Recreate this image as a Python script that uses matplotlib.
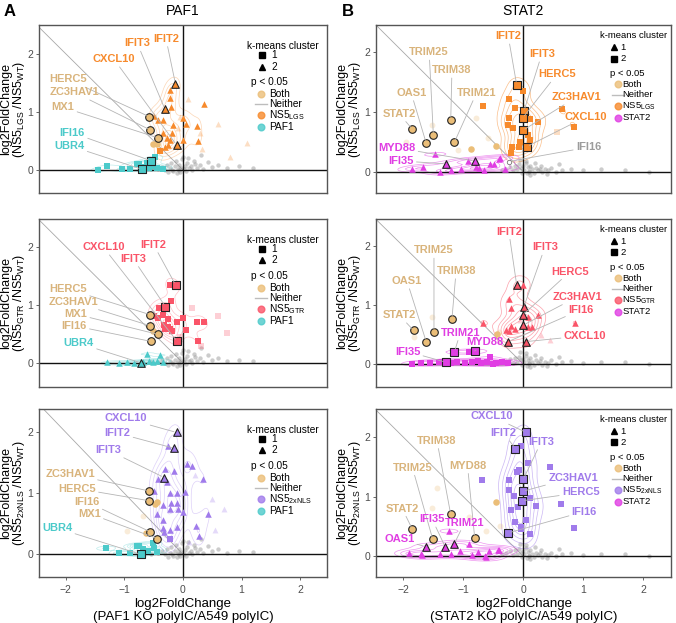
import numpy as np
import matplotlib
matplotlib.use("Agg")
import matplotlib.pyplot as plt
from matplotlib.lines import Line2D

plt.rcParams["font.family"] = ["Liberation Sans", "DejaVu Sans"]
plt.rcParams["mathtext.fontset"] = "custom"
plt.rcParams["mathtext.rm"] = "Liberation Sans"
plt.rcParams["mathtext.default"] = "regular"

TAN = "#EBBE78"
TAN_TXT = "#D9B47C"
ORANGE = "#F78A2C"
RED = "#FA5468"
PURPLE = "#A07BEB"
TEAL = "#4CCACA"
MAGENTA = "#E03DE3"
GREY = "#8f8f8f"

# ---------------- grey "Neither" genes (per column) ----------------
grey_A_x = [-0.42, -0.36, -0.31, -0.27, -0.23, -0.2, -0.17, -0.14, -0.12, -0.09, -0.07, -0.05, -0.03, -0.01,
            0.01, 0.03, 0.05, 0.07, 0.1, 0.13, 0.16, 0.2, 0.24, 0.29, 0.35, 0.42, 0.5, 0.6, 0.75, 0.95, 1.2,
            -0.55, -0.25, -0.1, 0.0, 0.08, 0.18, -0.18, 0.3, -0.06]
grey_A_y = [0.02, 0.05, 0.0, 0.08, 0.03, 0.12, -0.02, 0.06, 0.15, 0.02, 0.09, -0.03, 0.04, 0.18, 0.01, 0.07,
            -0.02, 0.12, 0.03, 0.06, 0.0, 0.1, 0.04, 0.08, 0.02, 0.13, 0.05, 0.09, 0.03, 0.06, 0.04, 0.01,
            -0.04, -0.05, 0.22, 0.2, 0.15, 0.0, 0.25, 0.0]
grey_B_x = [-0.35, -0.28, -0.22, -0.17, -0.13, -0.1, -0.07, -0.04, -0.02, 0.0, 0.02, 0.04, 0.06, 0.08, 0.1,
            0.12, 0.15, 0.18, 0.21, 0.24, 0.28, 0.32, 0.36, 0.41, 0.47, 0.55, 0.65, 0.8, 1.0, 1.3, 1.7, 2.1,
            0.05, 0.12, 0.2, 0.3, -0.05, 0.09, 0.4, 0.6]
grey_B_y = [0.03, 0.05, 0.08, 0.02, 0.1, 0.04, 0.12, 0.06, -0.02, 0.09, 0.03, 0.14, -0.03, 0.07, 0.01, 0.1,
            0.04, -0.02, 0.06, 0.02, 0.05, -0.01, 0.04, 0.02, 0.06, 0.0, 0.03, 0.05, 0.02, 0.04, 0.03, 0.0,
            0.18, -0.05, 0.15, 0.1, 0.2, 0.0, -0.04, 0.12]

# ---------------- A1: PAF1 KO vs NS5 LGS ----------------
A1_ns5_x = [-0.22, -0.22, -0.21, -0.50, -0.42, -0.35, 0.36, 0.00, 0.05, 0.24, -0.34, -0.19, -0.28, -0.22,
            -0.25, 0.00, 0.25, -0.31, -0.17, -0.40]
A1_ns5_y = [1.37, 1.24, 1.08, 0.93, 0.86, 0.86, 1.13, 0.89, 0.80, 0.76, 0.63, 0.63, 0.55, 0.51, 0.43, 0.51,
            0.50, 0.40, 0.78, 0.32]
A1_ns5_k = [2, 2, 2, 2, 2, 2, 2, 2, 2, 2, 2, 2, 2, 2, 2, 2, 2, 2, 2, 1]
A1_ko_x = [-0.48, -0.62, -0.76, -1.30, -0.79, -0.66, -0.58, -0.90, -1.05, -0.52, -0.44, -1.45, -0.35]
A1_ko_y = [0.22, 0.12, 0.10, 0.06, 0.11, 0.05, 0.03, 0.02, 0.01, 0.07, 0.04, 0.00, 0.02]
A1_ko_k = [1, 1, 1, 1, 1, 1, 1, 1, 1, 1, 1, 1, 1]
A1_both_x = [-0.51, -0.45]
A1_both_y = [0.45, 0.45]
A1_faint_x = [0.09, 0.60, -0.08, 0.32, 1.09, 0.80, 0.29, -0.05]
A1_faint_y = [1.22, 0.80, 0.72, 0.36, 0.46, 0.23, 0.64, 0.92]
A1_faint_g = ["ns5"] * 8
A1_genes = ["IFIT2", "IFIT3", "CXCL10", "HERC5", "ZC3HAV1", "MX1", "IFI16", "UBR4"]
A1_gene_x = [-0.13, -0.31, -0.11, -0.58, -0.56, -0.42, -0.55, -0.70]
A1_gene_y = [1.49, 1.05, 0.43, 0.92, 0.69, 0.55, 0.16, 0.01]
A1_gene_g = ["ns5", "ns5", "ns5", "both", "both", "both", "ko", "ko"]
A1_gene_k = [2, 2, 2, 0, 0, 0, 1, 1]
A1_text_pos = [(-0.29, 2.26), (-0.78, 2.18), (-1.18, 1.91), (-1.96, 1.56), (-1.86, 1.34), (-2.05, 1.08),
               (-1.89, 0.64), (-1.94, 0.42)]

# ---------------- A2: PAF1 KO vs NS5 GTR ----------------
A2_ns5_x = [-0.22, -0.20, -0.41, -0.49, -0.43, -0.34, -0.25, 0.00, -0.10, 0.24, 0.36, -0.32, -0.31, -0.22,
            -0.25, -0.19, 0.05, 0.26]
A2_ns5_y = [1.34, 1.07, 0.94, 0.81, 0.77, 0.83, 0.75, 0.77, 0.70, 0.70, 0.70, 0.66, 0.58, 0.58, 0.62, 0.55,
            0.57, 0.38]
A2_ns5_k = [1] * 18
A2_ko_x = [-0.62, -0.40, -1.29, -0.51, -0.84, -0.45, -0.58, -0.95, -1.10, -0.68, -0.35]
A2_ko_y = [0.16, 0.13, 0.01, 0.02, 0.00, 0.04, 0.03, 0.01, 0.00, 0.02, 0.01]
A2_ko_k = [2] * 11
A2_both_x = [-0.51]
A2_both_y = [0.55]
A2_faint_x = [0.60, 0.15, 0.75, -0.05, 0.30]
A2_faint_y = [0.80, 0.95, 0.51, 0.45, 0.30]
A2_faint_g = ["ns5"] * 5
A2_genes = ["IFIT2", "IFIT3", "CXCL10", "HERC5", "ZC3HAV1", "MX1", "IFI16", "UBR4"]
A2_gene_x = [-0.125, -0.30, -0.10, -0.56, -0.56, -0.42, -0.54, -0.71]
A2_gene_y = [1.34, 0.97, 0.37, 0.83, 0.64, 0.49, 0.37, 0.00]
A2_gene_g = ["ns5", "ns5", "ns5", "both", "both", "both", "both", "ko"]
A2_gene_k = [1, 1, 1, 0, 0, 0, 0, 2]
A2_text_pos = [(-0.50, 2.03), (-0.85, 1.79), (-1.36, 1.99), (-1.96, 1.27), (-1.87, 1.05), (-1.83, 0.84),
               (-1.86, 0.64), (-1.78, 0.34)]

# ---------------- A3: PAF1 KO vs NS5 2xNLS ----------------
A3_ns5_x = [-0.25, 0.06, 0.15, -0.30, -0.15, -0.43, -0.28, 0.35, -0.49, -0.23, -0.11, 0.04, -0.35, -0.21,
            -0.10, -0.23, -0.08, 0.00, -0.45, 0.42, -0.35, -0.34, -0.22, -0.10, 0.23, 0.28, -0.32, -0.22]
A3_ns5_y = [1.78, 1.49, 1.45, 1.40, 1.37, 1.24, 1.18, 1.23, 1.04, 1.00, 1.00, 1.03, 0.81, 0.85, 0.84, 0.74,
            0.74, 0.70, 0.66, 0.67, 0.56, 0.44, 0.40, 0.45, 0.46, 0.30, 0.36, 0.26]
A3_ns5_k = [2] * 27 + [1]
A3_ko_x = [-0.76, -0.52, -1.32, -0.79, -0.60, -0.90, -1.10, -0.45, -0.68, -0.50]
A3_ko_y = [0.14, 0.18, 0.10, 0.14, 0.06, 0.03, 0.02, 0.04, 0.08, 0.10]
A3_ko_k = [1] * 10
A3_both_x = [-0.48, -0.44, -0.63]
A3_both_y = [0.82, 0.86, 0.35]
A3_faint_x = [-0.95, -0.68, 0.20, 0.50, 0.70, 0.10, 0.55]
A3_faint_y = [0.39, 0.63, 1.30, 0.90, 0.75, 0.20, 0.40]
A3_faint_g = ["both", "both", "ns5", "ns5", "ns5", "ns5", "ns5"]
A3_genes = ["CXCL10", "IFIT2", "IFIT3", "ZC3HAV1", "HERC5", "IFI16", "MX1", "UBR4"]
A3_gene_x = [-0.11, -0.15, -0.32, -0.58, -0.58, -0.56, -0.44, -0.72]
A3_gene_y = [2.00, 1.74, 1.26, 1.04, 0.88, 0.37, 0.26, 0.00]
A3_gene_g = ["ns5", "ns5", "ns5", "both", "both", "both", "both", "ko"]
A3_gene_k = [2, 2, 2, 0, 0, 0, 0, 1]
A3_text_pos = [(-0.97, 2.23), (-1.12, 1.99), (-1.28, 1.71), (-1.93, 1.32), (-1.81, 1.08), (-1.64, 0.86),
               (-1.60, 0.67), (-2.15, 0.43)]

# ---------------- B1: STAT2 KO vs NS5 LGS ----------------
B1_ns5_x = [-0.01, -0.67, -0.23, -0.14, -0.23, 0.11, -0.25, -0.17, 0.08, 0.11, -0.05, -0.07, -0.18, -0.20,
            0.64, 0.85, 0.25]
B1_ns5_y = [1.35, 1.10, 1.21, 1.07, 0.90, 0.89, 0.79, 0.74, 0.61, 0.53, 0.50, 0.42, 0.42, 0.32, 1.05, 0.75,
            0.84]
B1_ns5_k = [2] * 17
B1_ko_x = [-1.47, -1.68, -1.39, -0.92, -0.55, -0.48, -0.73, -0.39, -1.04, -0.78, -0.40, -1.20, -0.65, -0.30,
           -1.85]
B1_ko_y = [0.29, 0.07, -0.01, 0.18, 0.13, 0.12, 0.06, 0.23, 0.04, 0.08, 0.22, 0.02, 0.03, 0.05, 0.04]
B1_ko_k = [1] * 15
B1_both_x = [-0.88, -0.45]
B1_both_y = [0.38, 0.43]
B1_faint_x = [-1.52, -0.78, -1.09, -0.59, -1.95, 0.56]
B1_faint_y = [0.79, 0.90, 0.36, 0.56, 0.50, 0.67]
B1_faint_g = ["both", "both", "both", "both", "both", "ns5"]
B1_genes = ["IFIT2", "IFIT3", "HERC5", "ZC3HAV1", "CXCL10", "IFI16", "TRIM25", "TRIM38", "TRIM21", "OAS1",
            "STAT2", "IFI35", "MYD88"]
B1_gene_x = [-0.11, 0.01, -0.01, -0.01, 0.06, -0.24, -1.50, -1.21, -1.15, -1.62, -1.85, -1.29, -0.81]
B1_gene_y = [1.46, 1.01, 0.90, 0.69, 0.42, 0.17, 0.61, 0.87, 0.49, 0.48, 0.71, 0.13, 0.18]
B1_gene_g = ["ns5", "ns5", "ns5", "ns5", "ns5", "none", "both", "both", "both", "both", "both", "ko", "ko"]
B1_gene_k = [2, 2, 2, 2, 2, 0, 0, 0, 0, 0, 0, 1, 1]
B1_text_pos = [(-0.25, 2.27), (0.31, 1.97), (0.56, 1.63), (0.89, 1.25), (1.05, 0.92), (1.09, 0.41),
               (-1.57, 2.00), (-1.19, 1.70), (-0.78, 1.32), (-1.87, 1.32), (-2.07, 0.97), (-2.04, 0.18),
               (-2.11, 0.40)]

# ---------------- B2: STAT2 KO vs NS5 GTR ----------------
B2_ns5_x = [-0.01, -0.23, -0.21, -0.67, -0.28, -0.20, -0.14, 0.14, 0.25, 0.86, 0.08, -0.23, 0.08]
B2_ns5_y = [1.35, 1.10, 0.95, 0.70, 0.58, 0.65, 0.60, 0.62, 0.83, 0.70, 0.62, 0.56, 0.79]
B2_ns5_k = [1] * 13
B2_ko_x = [-0.55, -0.90, -1.85, -1.70, -1.55, -1.40, -1.10, -0.98, -0.85, -0.70, -0.60, -0.45, -0.35, -0.25,
           -1.20, -0.75, -0.50]
B2_ko_y = [0.11, 0.21, 0.00, 0.02, 0.01, 0.03, 0.04, 0.02, 0.03, 0.01, 0.04, 0.02, 0.03, 0.01, 0.02, 0.05,
           0.00]
B2_ko_k = [2] * 17
B2_both_x = [-0.44]
B2_both_y = [0.51]
B2_faint_x = [-1.52, -1.83, -0.40, 0.30, 0.45, -0.05]
B2_faint_y = [0.79, 0.45, 0.55, 0.50, 0.40, 0.75]
B2_faint_g = ["both", "both", "both", "ns5", "ns5", "ns5"]
B2_genes = ["IFIT2", "IFIT3", "HERC5", "ZC3HAV1", "IFI16", "CXCL10", "TRIM25", "TRIM38", "OAS1", "STAT2",
            "TRIM21", "MYD88", "IFI35"]
B2_gene_x = [-0.11, 0.01, -0.01, 0.00, -0.25, 0.05, -1.49, -1.19, -1.62, -1.83, -1.15, -0.81, -1.29]
B2_gene_y = [1.35, 0.97, 0.83, 0.66, 0.38, 0.38, 0.55, 0.77, 0.38, 0.57, 0.20, 0.22, 0.03]
B2_gene_g = ["ns5", "ns5", "ns5", "ns5", "ns5", "ns5", "both", "both", "both", "both", "ko", "ko", "ko"]
B2_gene_k = [1, 1, 1, 1, 1, 1, 0, 0, 0, 0, 2, 2, 2]
B2_text_pos = [(-0.24, 2.25), (0.36, 1.98), (0.78, 1.57), (0.90, 1.14), (0.96, 0.92), (1.03, 0.48),
               (-1.49, 1.93), (-1.12, 1.58), (-1.94, 1.41), (-2.07, 0.83), (-1.05, 0.53), (-0.64, 0.37),
               (-1.93, 0.21)]

# ---------------- B3: STAT2 KO vs NS5 2xNLS ----------------
B3_ns5_x = [-0.03, -0.68, -0.11, -0.23, -0.16, 0.11, -0.09, -0.20, 0.05, -0.13, -0.03, 0.22, 0.44, 0.63,
            0.85, 0.08, -0.07, -0.23, 0.11, -0.03]
B3_ns5_y = [1.85, 1.28, 1.42, 1.11, 1.01, 0.97, 0.83, 0.77, 0.60, 0.57, 0.49, 0.84, 1.50, 0.87, 0.48, 1.56,
            1.45, 1.28, 0.38, 0.46]
B3_ns5_k = [2] * 20
B3_ko_x = [-1.24, -0.90, -1.69, -1.39, -1.06, -0.76, -0.62, -0.57, -0.42, -1.71, -0.64, -0.40, -1.90, -1.20,
           -0.85]
B3_ko_y = [0.42, 0.20, 0.02, 0.04, 0.08, 0.07, -0.02, 0.08, 0.11, 0.03, 0.00, 0.10, 0.05, 0.03, 0.02]
B3_ko_k = [1] * 15
B3_both_x = [-0.45]
B3_both_y = [0.91]
B3_faint_x = [-1.44, -1.53, -0.39, -0.62, -0.90]
B3_faint_y = [1.14, 0.81, 0.50, 0.43, 0.66]
B3_faint_g = ["both"] * 5
B3_genes = ["CXCL10", "IFIT2", "IFIT3", "ZC3HAV1", "HERC5", "IFI16", "TRIM38", "TRIM25", "MYD88", "STAT2",
            "IFI35", "TRIM21", "OAS1"]
B3_gene_x = [0.05, -0.13, 0.00, -0.01, -0.02, -0.25, -1.21, -1.51, -0.81, -1.85, -1.30, -1.15, -1.63]
B3_gene_y = [2.08, 1.81, 1.29, 1.09, 0.93, 0.39, 0.70, 0.28, 0.31, 0.45, 0.15, 0.21, 0.16]
B3_gene_g = ["ns5", "ns5", "ns5", "ns5", "ns5", "ns5", "both", "both", "both", "both", "ko", "ko", "ko"]
B3_gene_k = [2, 2, 2, 2, 2, 2, 0, 0, 0, 0, 1, 1, 1]
B3_text_pos = [(-0.52, 2.35), (-0.33, 2.07), (0.30, 1.92), (0.83, 1.32), (0.96, 1.07), (1.02, 0.75),
               (-1.44, 1.94), (-1.85, 1.49), (-0.93, 1.52), (-2.02, 0.80), (-1.52, 0.62), (-0.98, 0.56),
               (-2.07, 0.28)]

XLIM = (-2.46, 2.46)


def kde(xs, ys, xx, yy, shrink):
    xs = np.asarray(xs, float)
    ys = np.asarray(ys, float)
    cov = np.cov(np.vstack([xs, ys])) * len(xs) ** (-1 / 3) * shrink
    inv = np.linalg.inv(cov)
    dx = xx[..., None] - xs
    dy = yy[..., None] - ys
    q = inv[0, 0] * dx * dx + 2 * inv[0, 1] * dx * dy + inv[1, 1] * dy * dy
    return np.exp(-0.5 * q).sum(-1)


def draw_panel(ax, p, ylim, ns5_col, ko_col, markers, grey_x, grey_y, contour_alpha):
    ax.set_xlim(*XLIM)
    ax.set_ylim(*ylim)
    ax.plot([-3, 0], [3, 0], color="#a8a8a8", lw=0.6, zorder=1)
    ax.scatter(grey_x, grey_y, s=10, color=GREY, alpha=0.45, lw=0, zorder=1)

    cols = {"ns5": ns5_col, "ko": ko_col, "both": TAN, "none": GREY}
    txt_cols = {"ns5": ns5_col, "ko": ko_col, "both": TAN_TXT, "none": "#9c9c9c"}

    # density contours of the two cluster groups
    gx, gy = np.meshgrid(np.linspace(XLIM[0], XLIM[1], 220), np.linspace(ylim[0], ylim[1], 160))
    for grp, col in (("ns5", ns5_col), ("ko", ko_col)):
        xs = list(p[grp + "_x"]) + [x for x, g in zip(p["gene_x"], p["gene_g"]) if g == grp]
        ys = list(p[grp + "_y"]) + [y for y, g in zip(p["gene_y"], p["gene_g"]) if g == grp]
        z = kde(xs, ys, gx, gy, 0.6)
        ax.contour(gx, gy, z, levels=z.max() * np.array([0.2, 0.35, 0.5, 0.65, 0.8, 0.92]),
                   colors=col, linewidths=0.5, alpha=contour_alpha, zorder=2)

    for x, y, g in zip(p["faint_x"], p["faint_y"], p["faint_g"]):
        mk = "o" if g == "both" else markers[p["ns5_k"][0]]
        ax.scatter(x, y, s=18, marker=mk, color=cols[g], alpha=0.28, lw=0, zorder=2)

    for grp in ("ko", "ns5"):
        for x, y, k in zip(p[grp + "_x"], p[grp + "_y"], p[grp + "_k"]):
            ax.scatter(x, y, s=22, marker=markers[k], color=cols[grp], lw=0, zorder=3)
    ax.scatter(p["both_x"], p["both_y"], s=22, marker="o", color=TAN, lw=0, zorder=3)

    for name, x, y, g, k, (tx, ty) in zip(p["genes"], p["gene_x"], p["gene_y"], p["gene_g"],
                                           p["gene_k"], p["text_pos"]):
        if g == "none":
            ax.scatter(x, y, s=10, marker="o", facecolor="white", edgecolor="#777777", lw=0.6, zorder=4)
        else:
            mk = "o" if g == "both" else markers[k]
            ax.scatter(x, y, s=30, marker=mk, color=cols[g], edgecolor="#222222", lw=0.8, zorder=4)
        ax.annotate(name, xy=(x, y), xytext=(tx, ty), ha="center", va="center",
                    fontsize=8, fontweight="bold", color=txt_cols[g], zorder=5,
                    arrowprops=dict(arrowstyle="-", color="#b5b5b5", lw=0.6, shrinkA=0, shrinkB=2))

    ax.axhline(0, color="#111111", lw=1.0, zorder=2.5)
    ax.axvline(0, color="#111111", lw=1.0, zorder=2.5)
    for s in ax.spines.values():
        s.set_color("#555555")
        s.set_linewidth(1.0)
    ax.set_yticks([0, 1, 2])
    ax.set_xticks([-2, -1, 0, 1, 2])
    ax.tick_params(labelsize=7.5, colors="#4d4d4d", length=2.5, width=0.6)
    ax.tick_params(axis="y", pad=1.5)


def draw_legend(ax, spec, ns5_lab, ns5_col, ko_lab, ko_col, k_markers, fs):
    tr = ax.transAxes
    ax.text(spec["title"][0], spec["title"][1], "k-means cluster", transform=tr, fontsize=fs,
            va="center", ha="left", clip_on=False)
    for (mk, lab), yy in zip(k_markers, spec["k_y"]):
        ax.add_line(Line2D([spec["mx"]], [yy], marker=mk, ms=4.2, color="black", lw=0,
                           transform=tr, clip_on=False))
        ax.text(spec["tx"], yy, lab, transform=tr, fontsize=fs, va="center", ha="left", clip_on=False)
    ax.text(spec["p"][0], spec["p"][1], "p < 0.05", transform=tr, fontsize=fs, va="center",
            ha="left", clip_on=False)
    entries = [("Both", TAN), ("Neither", None), (ns5_lab, ns5_col), (ko_lab, ko_col)]
    for (lab, col), yy in zip(entries, spec["c_y"]):
        if col is None:
            ax.add_line(Line2D([spec["cx"] - 0.02, spec["cx"] + 0.02], [yy, yy], color="#bdbdbd",
                               lw=1.0, transform=tr, clip_on=False))
        else:
            ax.add_line(Line2D([spec["cx"]], [yy], marker="o", ms=4.8, color=col, alpha=0.8, lw=0,
                               transform=tr, clip_on=False))
        ax.text(spec["ctx"], yy, lab, transform=tr, fontsize=fs, va="center", ha="left", clip_on=False)


fig = plt.figure(figsize=(6.76, 6.23), dpi=100)

col_left = [0.0577, 0.556]
col_width = [0.426, 0.436]
ylab_x = [-0.040, -0.042]
row_bottom = [0.690, 0.379, 0.074]
row_h = 0.270
ylims_A = [(-0.40, 2.50), (-0.41, 2.48), (-0.37, 2.39)]
ylims_B = [(-0.36, 2.46), (-0.39, 2.47), (-0.35, 2.48)]

g = globals()
ns5_cols = [ORANGE, RED, PURPLE]
ns5_labs = ["NS5$_{LGS}$", "NS5$_{GTR}$", "NS5$_{2xNLS}$"]
ns5_subs = ["LGS", "GTR", "2xNLS"]

legA = dict(title=(0.721, 0.875), mx=0.775, tx=0.808, k_y=[0.821, 0.752], p=(0.736, 0.662),
            cx=0.771, ctx=0.80, c_y=[0.590, 0.528, 0.462, 0.392])
legB = dict(title=(0.759, 0.935), mx=0.807, tx=0.829, k_y=[0.866, 0.800], p=(0.795, 0.712),
            cx=0.821, ctx=0.836, c_y=[0.646, 0.584, 0.518, 0.448])

for ci, (colname, ko_col, ko_lab, markers, kmk, grey_x, grey_y, ylims, leg, calpha, lfs) in enumerate([
        ("A", TEAL, "PAF1", {1: "s", 2: "^"}, [("s", "1"), ("^", "2")], grey_A_x, grey_A_y, ylims_A, legA,
         0.35, 7.3),
        ("B", MAGENTA, "STAT2", {1: "^", 2: "s"}, [("^", "1"), ("s", "2")], grey_B_x, grey_B_y, ylims_B, legB,
         0.55, 6.8)]):
    for ri in range(3):
        pre = f"{colname}{ri + 1}_"
        keys = ["ns5_x", "ns5_y", "ns5_k", "ko_x", "ko_y", "ko_k", "both_x", "both_y", "faint_x",
                "faint_y", "faint_g", "gene_x", "gene_y", "gene_g", "gene_k", "text_pos"]
        p = {k: g[pre + k] for k in keys}
        p["genes"] = g[pre + "genes"]
        ax = fig.add_axes([col_left[ci], row_bottom[ri], col_width[ci], row_h])
        draw_panel(ax, p, ylims[ri], ns5_cols[ri], ko_col, markers, grey_x, grey_y, calpha)
        draw_legend(ax, leg, ns5_labs[ri], ns5_cols[ri], ko_lab, ko_col, kmk, lfs)
        ax.set_ylabel("log2FoldChange\n(NS5$_{%s}$ /NS5$_{WT}$)" % ns5_subs[ri], fontsize=9,
                      linespacing=0.9)
        ax.yaxis.set_label_coords(ylab_x[ci], 0.5)
        if ri < 2:
            ax.tick_params(axis="x", labelbottom=False, length=0)
        else:
            ax.set_xlabel(f"log2FoldChange\n({ko_lab} KO polyIC/A549 polyIC)", fontsize=9.5,
                          labelpad=2, linespacing=1.1)
        if ri == 0:
            ax.set_title(ko_lab, fontsize=10, pad=7)

fig.text(0.006, 0.982, "A", fontsize=12, fontweight="bold", va="center")
fig.text(0.505, 0.982, "B", fontsize=12, fontweight="bold", va="center")

fig.savefig("out.png", dpi=100)
